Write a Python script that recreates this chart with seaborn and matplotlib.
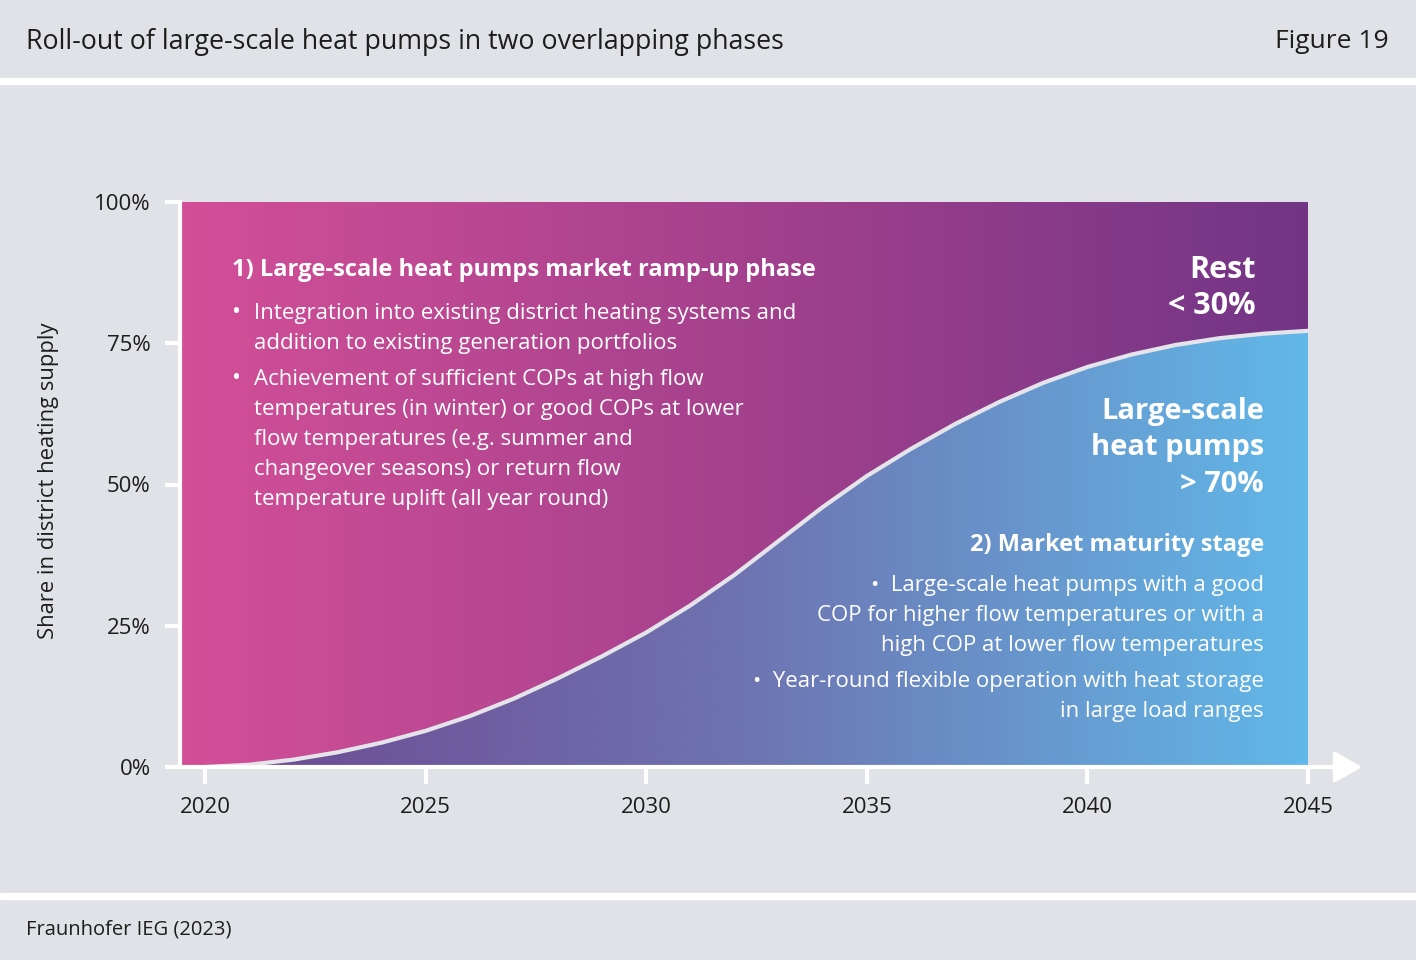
import numpy as np
import seaborn as sns
import matplotlib.pyplot as plt
from matplotlib.colors import LinearSegmentedColormap
from matplotlib.patches import ArrowStyle

# values
years = [2020, 2021, 2022, 2023, 2024, 2025, 2026, 2027, 2028, 2029, 2030, 2031, 2032,
         2033, 2034, 2035, 2036, 2037, 2038, 2039, 2040, 2041, 2042, 2043, 2044, 2045]
share = [0, 0.4, 1.3, 2.6, 4.3, 6.4, 9.0, 12.1, 15.7, 19.6, 23.8, 28.6, 34.0,
         40.0, 46.0, 51.5, 56.3, 60.7, 64.6, 68.0, 70.8, 73.0, 74.7, 75.9, 76.7, 77.2]
y_ticks = [0, 25, 50, 75, 100]
y_tick_labels = ["0%", "25%", "50%", "75%", "100%"]
x_ticks = [2020, 2025, 2030, 2035, 2040, 2045]

title = "Roll-out of large-scale heat pumps in two overlapping phases"
fig_label = "Figure 19"
source = "Fraunhofer IEG (2023)"
ylabel = "Share in district heating supply"
phase1_title = "1) Large-scale heat pumps market ramp-up phase"
phase1_bullets = [
    ["Integration into existing district heating systems and",
     "addition to existing generation portfolios"],
    ["Achievement of sufficient COPs at high flow",
     "temperatures (in winter) or good COPs at lower",
     "flow temperatures (e.g. summer and",
     "changeover seasons) or return flow",
     "temperature uplift (all year round)"],
]
phase2_title = "2) Market maturity stage"
phase2_bullets = [
    ["Large-scale heat pumps with a good",
     "COP for higher flow temperatures or with a",
     "high COP at lower flow temperatures"],
    ["Year-round flexible operation with heat storage",
     "in large load ranges"],
]
rest_label = ["Rest", "< 30%"]
hp_label = ["Large-scale", "heat pumps", "> 70%"]

BG = "#e1e2e7"
TXT = "#1d1d1b"
W, H = 1416, 960

sns.set_theme(style="white")
plt.rcParams['font.family'] = ['Open Sans', 'DejaVu Sans']


def px(x, y):
    return x / W, 1 - y / H


fig = plt.figure(figsize=(W / 100, H / 100), dpi=100, facecolor=BG)

# white separator bands
fig.add_artist(plt.Rectangle((0, 1 - 84 / H), 1, 6 / H, color="white", transform=fig.transFigure))
fig.add_artist(plt.Rectangle((0, 1 - 899 / H), 1, 6 / H, color="white", transform=fig.transFigure))

fig.text(*px(26, 42), title, fontsize=19.3, color=TXT, va="center", ha="left")
fig.text(*px(1389, 42), fig_label, fontsize=19, color=TXT, va="center", ha="right")
fig.text(*px(26, 930), source, fontsize=14.5, color=TXT, va="center", ha="left")
fig.text(*px(49, 481), ylabel, fontsize=15.8, color=TXT, va="center", ha="center", rotation=90)

ax = fig.add_axes([180 / W, 1 - 767 / H, (1362 - 180) / W, (767 - 202) / H])
ax.set_facecolor("none")
step = (1308 - 205) / 25
x0 = 2020 - (205 - 180) / step
x1 = 2045 + (1362 - 1308) / step

grad = np.linspace(0, 1, 512).reshape(1, -1)
cm_top = LinearSegmentedColormap.from_list("top", ["#d34f98", "#a4418d", "#723586"])
cm_bot = LinearSegmentedColormap.from_list("bot", ["#6e468f", "#6e74b1", "#61b8e8"])

ax.imshow(grad, cmap=cm_top, extent=[x0, years[-1], 0, 100], aspect="auto",
          origin="lower", zorder=1, interpolation="bicubic")
poly = ax.fill_between(years, 0, share, color="none", lw=0, zorder=2)
im_bot = ax.imshow(grad, cmap=cm_bot, extent=[x0, years[-1], 0, 100], aspect="auto",
                   origin="lower", zorder=2, interpolation="bicubic")
im_bot.set_clip_path(poly.get_paths()[0], transform=ax.transData)

sns.lineplot(x=years, y=share, color="#e4e4ea", lw=3, ax=ax, zorder=3)
for ln in ax.lines:
    ln.set_solid_joinstyle("round")

ax.set_xlim(x0, x1)
ax.set_ylim(0, 100)

for s in ["top", "right", "bottom"]:
    ax.spines[s].set_visible(False)
ax.spines["left"].set_color("white")
ax.spines["left"].set_linewidth(3)
ax.spines["left"].set_zorder(4)

ax.annotate("", xy=(x1, 0), xytext=(x0, 0), xycoords="data",
            arrowprops=dict(arrowstyle=ArrowStyle("-|>", head_length=0.75, head_width=0.43),
                            mutation_scale=22, color="white", lw=3, shrinkA=0, shrinkB=0),
            annotation_clip=False, zorder=5)

ax.set_yticks(y_ticks)
ax.set_yticklabels(y_tick_labels)
ax.set_xticks(x_ticks)
ax.set_xticklabels([str(t) for t in x_ticks])
ax.tick_params(axis="y", direction="out", length=11, width=3, color="white",
               labelsize=16, labelcolor=TXT, pad=10, left=True)
ax.tick_params(axis="x", direction="out", length=12, width=3, color="white",
               labelsize=16, labelcolor=TXT, pad=9.5, bottom=True)
ax.set_xlabel("")
ax.set_ylabel("")

# phase 1 text block
fig.text(*px(232, 270), phase1_title, fontsize=17, fontweight="bold", color="white", va="center")
y = 313
for bullet in phase1_bullets:
    fig.text(*px(232, y), "•", fontsize=17, color="white", va="center")
    for line in bullet:
        fig.text(*px(254, y), line, fontsize=16, color="white", va="center")
        y += 30
    y += 6

# right side labels
y = 270
for line in rest_label:
    fig.text(*px(1256, y), line, fontsize=22, fontweight="bold", color="white", va="center", ha="right")
    y += 36
y = 412
for line in hp_label:
    fig.text(*px(1264, y), line, fontsize=21, fontweight="bold", color="white", va="center", ha="right")
    y += 36

fig.text(*px(1264, 545), phase2_title, fontsize=17, fontweight="bold", color="white", va="center", ha="right")
y = 585
for bullet in phase2_bullets:
    for i, line in enumerate(bullet):
        txt = "•  " + line if i == 0 else line
        fig.text(*px(1264, y), txt, fontsize=16, color="white", va="center", ha="right")
        y += 30
    y += 6

fig.savefig("out.png", dpi=100, facecolor=BG)
